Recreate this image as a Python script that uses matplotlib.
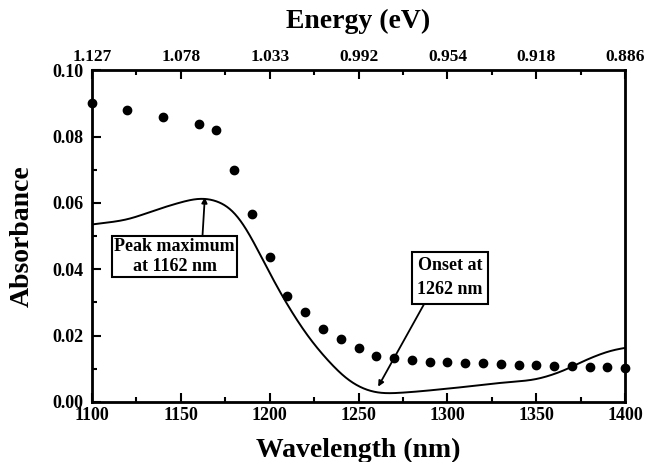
import numpy as np
import matplotlib.pyplot as plt
from matplotlib.ticker import MultipleLocator

plt.rcParams['font.family'] = ['Liberation Serif', 'DejaVu Serif']
plt.rcParams['font.weight'] = 'bold'

# measured spectrum (solid line)
wl_line = [1100, 1120, 1138, 1157, 1164, 1178, 1187, 1196, 1206, 1215, 1224, 1234,
           1243, 1253, 1260, 1264, 1283, 1311, 1330, 1350, 1367, 1375, 1382, 1393, 1400]
abs_line = [0.0535, 0.0548, 0.0583, 0.0613, 0.0618, 0.0593, 0.0528, 0.0428, 0.0327,
            0.0247, 0.0177, 0.0117, 0.0066, 0.0036, 0.0026, 0.0024, 0.0031, 0.0046,
            0.0058, 0.0066, 0.0096, 0.0121, 0.0136, 0.0159, 0.0163]

# calculated points (dots)
wl_dots = [1100, 1120, 1140, 1160, 1170, 1180, 1190, 1200, 1210, 1220, 1230, 1240,
           1250, 1260, 1270, 1280, 1290, 1300, 1310, 1320, 1330, 1340, 1350, 1360,
           1370, 1380, 1390, 1400]
abs_dots = [0.0900, 0.0880, 0.0859, 0.0839, 0.0819, 0.0699, 0.0568, 0.0438, 0.0319,
            0.0272, 0.0219, 0.0189, 0.0162, 0.0139, 0.0132, 0.0127, 0.0120, 0.0120,
            0.0117, 0.0117, 0.0114, 0.0111, 0.0111, 0.0109, 0.0109, 0.0106, 0.0106,
            0.0103]

wl_ticks = [1100, 1150, 1200, 1250, 1300, 1350, 1400]
ev_labels = ['1.127', '1.078', '1.033', '0.992', '0.954', '0.918', '0.886']


def smooth_curve(x, y, xs, sigma=6.0):
    # linear through the read points, then a gaussian blur so it draws smooth
    ys = np.interp(xs, x, y)
    step = xs[1] - xs[0]
    n = int(3 * sigma / step)
    k = np.exp(-0.5 * (np.arange(-n, n + 1) * step / sigma) ** 2)
    k /= k.sum()
    # pad with linear extrapolation so the ends keep their slope
    left = ys[0] - (ys[1:n + 1] - ys[0])[::-1]
    right = ys[-1] - (ys[-n - 1:-1] - ys[-1])[::-1]
    return np.convolve(np.concatenate([left, ys, right]), k, mode='valid')


xs = np.linspace(1100, 1400, 1201)
ys = smooth_curve(wl_line, abs_line, xs)

fig = plt.figure(figsize=(6.52, 4.62), dpi=100)
ax = fig.add_axes([0.141, 0.130, 0.818, 0.718])

ax.plot(xs, ys, color='black', lw=1.4)
ax.plot(wl_dots, abs_dots, 'o', color='black', ms=6, clip_on=False, zorder=3)

ax.set_xlim(1100, 1400)
ax.set_ylim(0, 0.10)
ax.set_xticks(wl_ticks)
ax.xaxis.set_minor_locator(MultipleLocator(25))
ax.yaxis.set_major_locator(MultipleLocator(0.02))
ax.yaxis.set_minor_locator(MultipleLocator(0.01))
ax.yaxis.set_major_formatter(plt.FormatStrFormatter('%.2f'))
ax.tick_params(which='both', direction='in', labelsize=13, width=1.5)
ax.tick_params(which='major', length=6.5)
ax.tick_params(which='minor', length=3.5)
ax.tick_params(axis='x', pad=4)
ax.tick_params(axis='y', pad=6)
for sp in ax.spines.values():
    sp.set_linewidth(2.0)

ax.set_xlabel('Wavelength (nm)', fontsize=20, fontweight='bold', va='center')
ax.xaxis.set_label_coords(0.5, -0.145)
ax.set_ylabel('Absorbance', fontsize=20, fontweight='bold', va='center')
ax.yaxis.set_label_coords(-0.131, 0.5)

top = ax.twiny()
top.set_xlim(ax.get_xlim())
top.set_xticks(wl_ticks)
top.set_xticklabels(ev_labels)
top.xaxis.set_minor_locator(MultipleLocator(25))
top.tick_params(which='both', direction='in', labelsize=12.5, width=1.5, pad=4)
top.tick_params(which='major', length=6.5)
top.tick_params(which='minor', length=3.5)
top.set_xlabel('Energy (eV)', fontsize=20, fontweight='bold', va='center')
top.xaxis.set_label_coords(0.5, 1.148)

ax.annotate('Peak maximum\nat 1162 nm', xy=(1163.5, 0.0617), xytext=(1146.5, 0.0438),
            ha='center', va='center', fontsize=13, fontweight='bold',
            linespacing=1.2,
            bbox=dict(boxstyle='square,pad=0.12', fc='white', ec='black', lw=1.5),
            arrowprops=dict(arrowstyle='-|>', color='black', lw=1.3,
                            shrinkA=0, shrinkB=0, mutation_scale=8,
                            relpos=(0.73, 1.0)))
ax.annotate('Onset at\n1262 nm', xy=(1261, 0.0046), xytext=(1301.5, 0.0375),
            ha='center', va='center', fontsize=13, fontweight='bold',
            linespacing=1.6,
            bbox=dict(boxstyle='square,pad=0.28', fc='white', ec='black', lw=1.5),
            arrowprops=dict(arrowstyle='-|>', color='black', lw=1.3,
                            shrinkA=0, shrinkB=0, mutation_scale=8,
                            relpos=(0.15, 0.0)))

fig.savefig('out.png', dpi=100)
